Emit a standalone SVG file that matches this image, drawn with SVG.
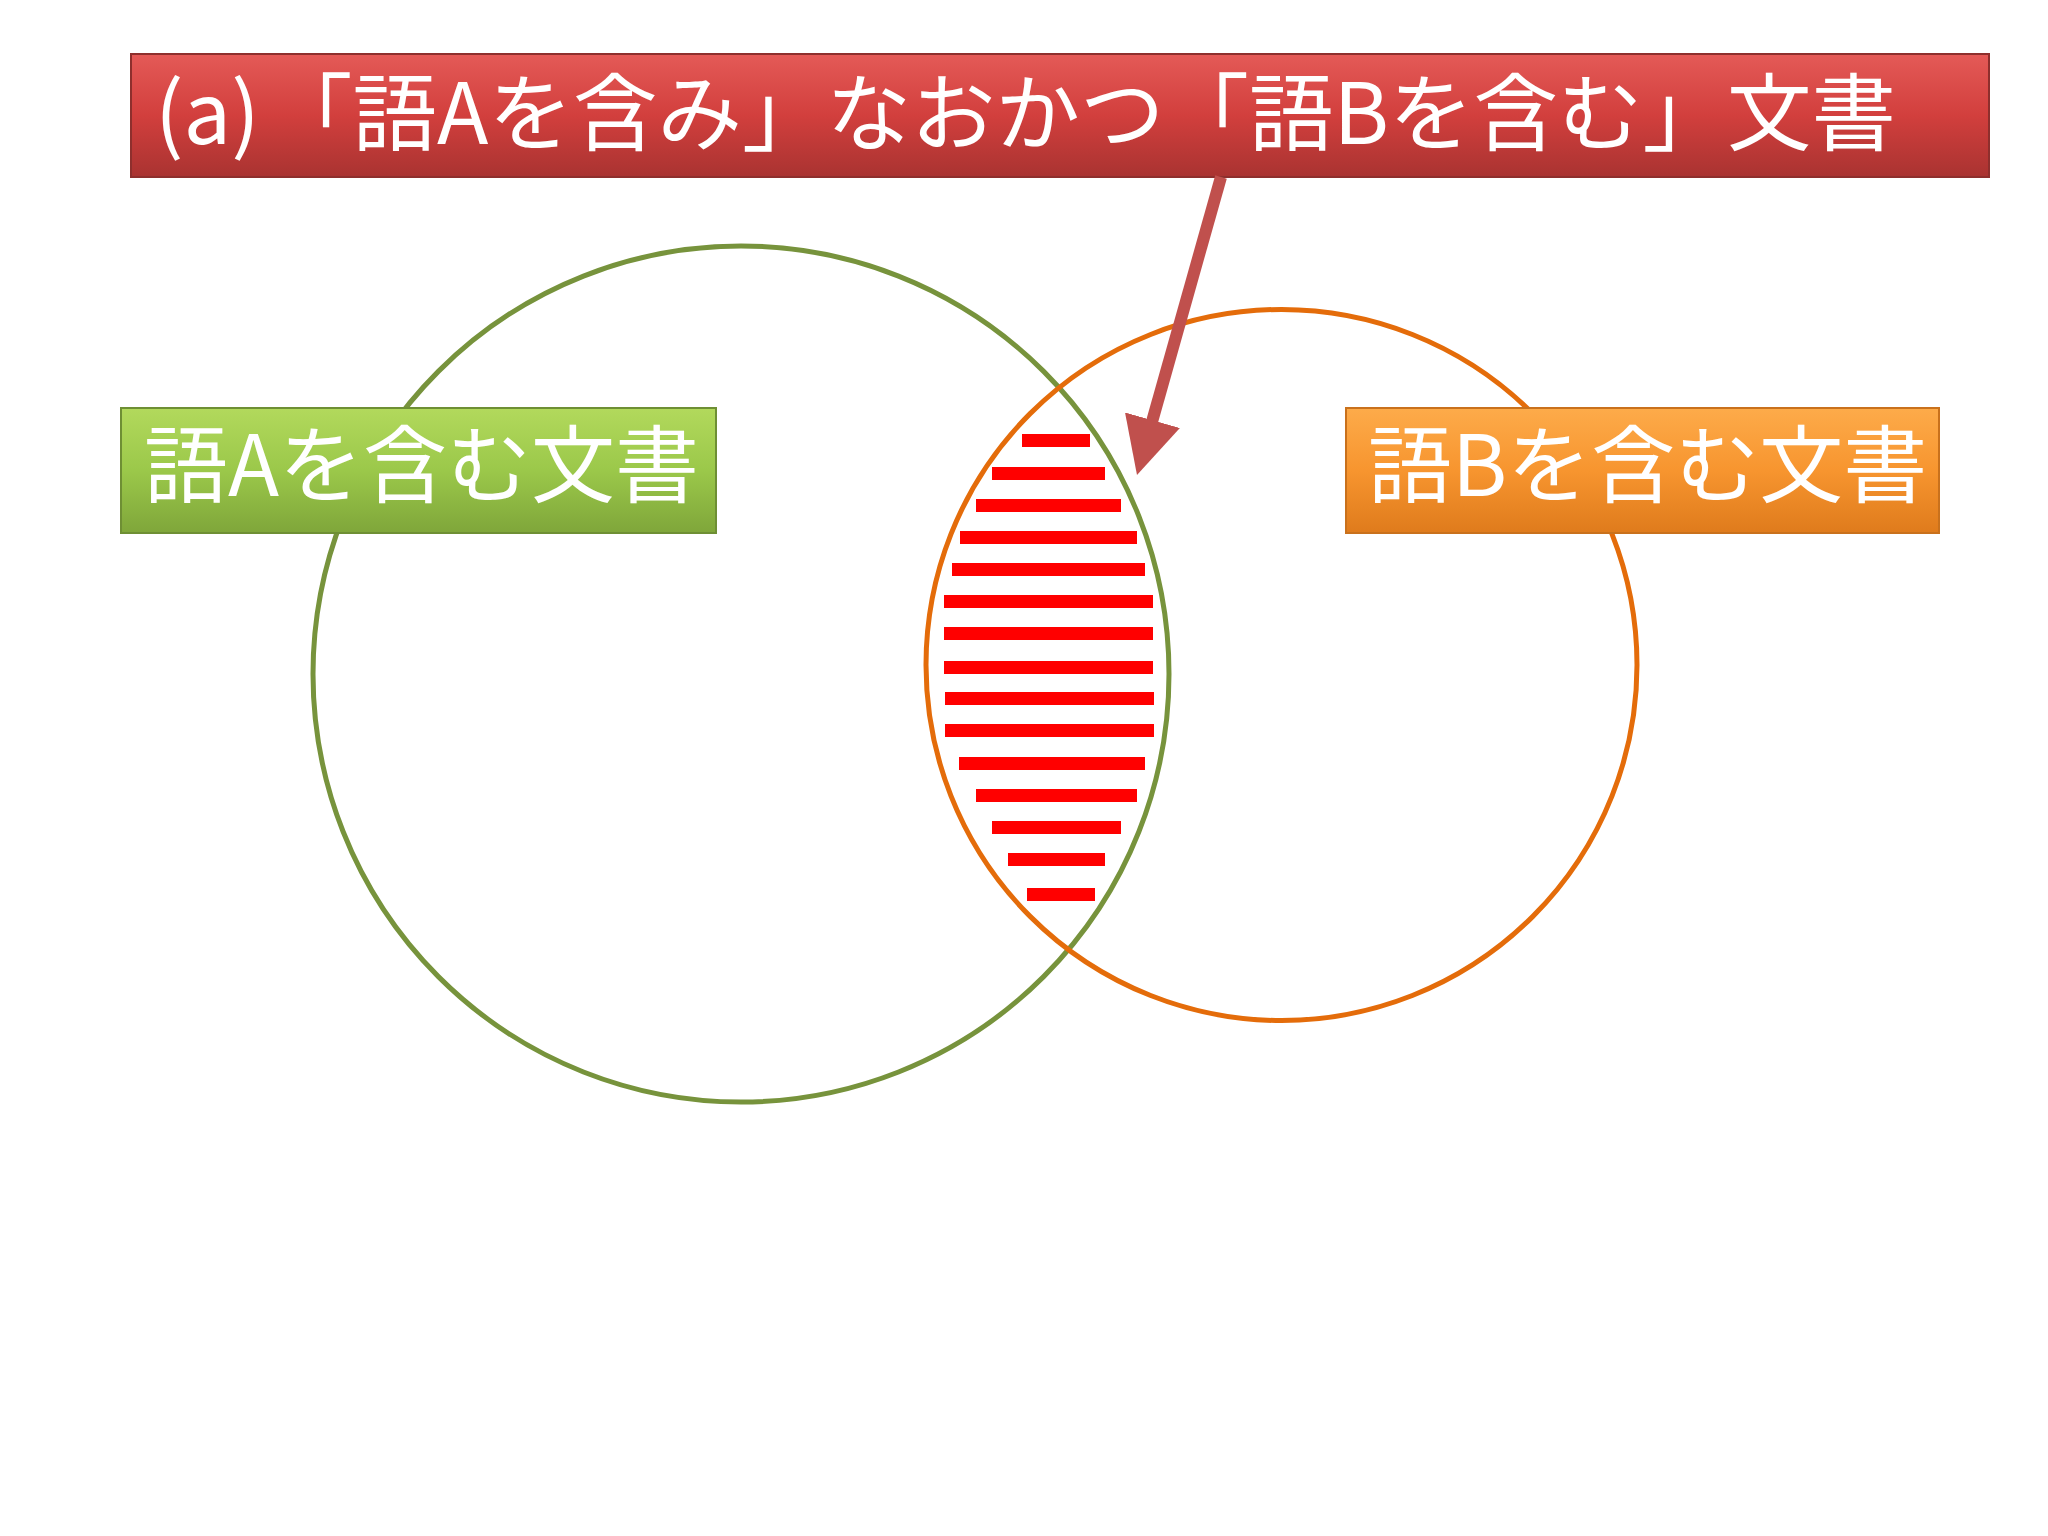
<svg xmlns="http://www.w3.org/2000/svg" width="2048" height="1536" viewBox="0 0 2048 1536">
  <style>
    .lbl { font-family: "Noto Sans CJK JP", "Noto Sans", sans-serif; fill: #ffffff; }
    .stripe { fill: #ff0000; }
    .box { stroke-width: 2; }
  </style>
  <defs>
    <linearGradient id="gRed" x1="0" y1="0" x2="0" y2="1">
      <stop offset="0" stop-color="#e45a57"/>
      <stop offset="0.5" stop-color="#d23f3d"/>
      <stop offset="1" stop-color="#a93331"/>
    </linearGradient>
    <linearGradient id="gGreen" x1="0" y1="0" x2="0" y2="1">
      <stop offset="0" stop-color="#b2d95c"/>
      <stop offset="0.5" stop-color="#9bc84a"/>
      <stop offset="1" stop-color="#7fa63a"/>
    </linearGradient>
    <linearGradient id="gOrange" x1="0" y1="0" x2="0" y2="1">
      <stop offset="0" stop-color="#fdab4a"/>
      <stop offset="0.5" stop-color="#f7952f"/>
      <stop offset="1" stop-color="#df7b1c"/>
    </linearGradient>
    <marker id="head" markerUnits="userSpaceOnUse" markerWidth="57" markerHeight="57" refX="5" refY="28.5" orient="auto">
      <path d="M0,0 L57,28.5 L0,57 Z" fill="#c0504d"/>
    </marker>
  </defs>
  <rect x="0" y="0" width="2048" height="1536" fill="#ffffff"/>

  <g id="setA">
    <circle cx="741" cy="674" r="428" fill="none" stroke="#77933c" stroke-width="5"/>
  </g>
  <g id="setB">
    <circle cx="1281.5" cy="665" r="355.5" fill="none" stroke="#e46c0a" stroke-width="5"/>
  </g>

  <g id="intersection">
    <rect class="stripe" x="1022" y="434" width="68" height="13"/>
    <rect class="stripe" x="992" y="467" width="113" height="13"/>
    <rect class="stripe" x="976" y="499" width="145" height="13"/>
    <rect class="stripe" x="960" y="531" width="177" height="13"/>
    <rect class="stripe" x="952" y="563" width="193" height="13"/>
    <rect class="stripe" x="944" y="595" width="209" height="13"/>
    <rect class="stripe" x="944" y="627" width="209" height="13"/>
    <rect class="stripe" x="944" y="661" width="209" height="13"/>
    <rect class="stripe" x="945" y="692" width="209" height="13"/>
    <rect class="stripe" x="945" y="724" width="209" height="13"/>
    <rect class="stripe" x="959" y="757" width="186" height="13"/>
    <rect class="stripe" x="976" y="789" width="161" height="13"/>
    <rect class="stripe" x="992" y="821" width="129" height="13"/>
    <rect class="stripe" x="1008" y="853" width="97" height="13"/>
    <rect class="stripe" x="1027" y="888" width="68" height="13"/>
  </g>

  <g id="title">
    <rect x="131" y="54" width="1858" height="123" fill="url(#gRed)" stroke="#8e2f2d" class="box"/>
    <text class="lbl" font-size="84.5"><tspan x="155" y="144">(a)</tspan><tspan x="268" y="144">「語Aを含み」なおかつ「語Bを含む」文書</tspan></text>
  </g>

  <g id="labelA">
    <rect x="121" y="408" width="595" height="125" fill="url(#gGreen)" stroke="#6e8f34" class="box"/>
    <text class="lbl" x="144" y="496" font-size="84">語Aを含む文書</text>
  </g>

  <g id="labelB">
    <rect x="1346" y="408" width="593" height="125" fill="url(#gOrange)" stroke="#c9711c" class="box"/>
    <text class="lbl" x="1368" y="496" font-size="84">語Bを含む文書</text>
  </g>

  <g id="connectors">
    <line x1="1221" y1="177" x2="1151.1" y2="425" stroke="#c0504d" stroke-width="12" marker-end="url(#head)"/>
  </g>
</svg>
